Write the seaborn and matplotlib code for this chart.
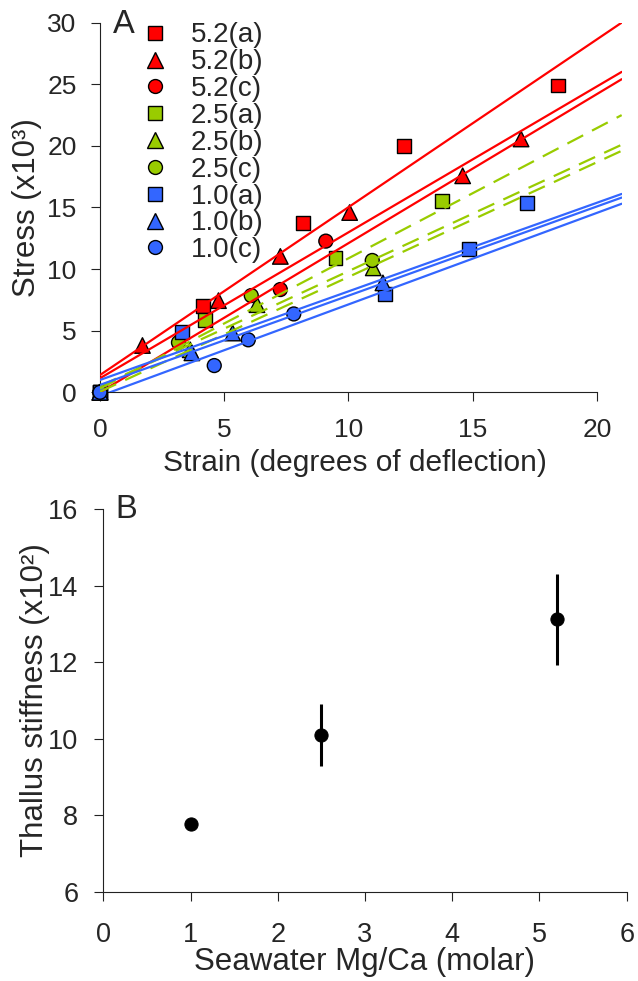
import numpy as np
import pandas as pd
import seaborn as sns
import matplotlib.pyplot as plt
from matplotlib.lines import Line2D

# panel A: stress vs strain, one set per seawater Mg/Ca and replicate
a52_x = [0, 4.16, 8.17, 12.24, 18.44]
a52_y = [0, 7.03, 13.72, 19.97, 24.9]
b52_x = [0, 1.71, 4.77, 7.26, 10.05, 14.6, 16.95]
b52_y = [0, 3.8, 7.44, 11.03, 14.59, 17.57, 20.56]
c52_x = [0, 7.26, 9.09]
c52_y = [0, 8.34, 12.27]
a25_x = [0, 4.24, 9.48, 13.76]
a25_y = [0, 5.89, 10.92, 15.53]
b25_x = [0, 3.63, 6.32, 11.0]
b25_y = [0, 3.45, 7.11, 10.1]
c25_x = [0, 3.16, 6.09, 10.96]
c25_y = [0, 4.04, 7.85, 10.7]
a10_x = [0, 3.3, 11.47, 14.84, 17.18]
a10_y = [0, 4.89, 7.99, 11.6, 15.35]
b10_x = [0, 3.7, 5.34, 11.39]
b10_y = [0, 3.2, 4.81, 8.88]
c10_x = [0, 4.6, 5.97, 7.8]
c10_y = [0, 2.17, 4.26, 6.36]

# fitted lines (intercept, slope)
fit_labels = ["5.2(a)", "5.2(b)", "5.2(c)", "2.5(a)", "2.5(b)", "2.5(c)",
              "1.0(a)", "1.0(b)", "1.0(c)"]
fit_icpt = [1.4, 1.14, 0.0, 0.3, 0.5, 0.05, 1.0, 0.6, -0.3]
fit_slope = [1.362, 1.184, 1.21, 1.057, 0.933, 0.931, 0.719, 0.724, 0.743]

# panel B: stiffness vs Mg/Ca
mgca = [1.0, 2.5, 5.2]
stiff = [7.76, 10.1, 13.12]
stiff_err = [0.15, 0.8, 1.2]

RED = "#FF0000"
GREEN = "#99CC00"
BLUE = "#3366FF"
pal = {"5.2": RED, "2.5": GREEN, "1.0": BLUE}
mk = {"a": "s", "b": "^", "c": "o"}
mk_size = {"a": 100, "b": 125, "c": 100}

sets = [("5.2", "a", a52_x, a52_y), ("5.2", "b", b52_x, b52_y), ("5.2", "c", c52_x, c52_y),
        ("2.5", "a", a25_x, a25_y), ("2.5", "b", b25_x, b25_y), ("2.5", "c", c25_x, c25_y),
        ("1.0", "a", a10_x, a10_y), ("1.0", "b", b10_x, b10_y), ("1.0", "c", c10_x, c10_y)]
rows = []
for grp, rep, xs, ys in sets:
    for x, y in zip(xs, ys):
        rows.append({"grp": grp, "rep": rep, "strain": x, "stress": y})
df = pd.DataFrame(rows)

sns.set_theme(style="ticks")
plt.rcParams["font.family"] = ["Liberation Sans", "DejaVu Sans"]

W, H = 638, 981
fig = plt.figure(figsize=(W / 100, H / 100), dpi=100)
axA = fig.add_axes([0.1567, 0.6001, 0.8177, 0.3768])
axB = fig.add_axes([0.1619, 0.0910, 0.8204, 0.3898])

# --- panel A
sns.scatterplot(data=df, x="strain", y="stress", hue="grp", style="rep",
                size="rep", sizes=mk_size, palette=pal, markers=mk,
                edgecolor="black", linewidth=1,
                legend=False, ax=axA, clip_on=False, zorder=3)

xs_line = np.array([0, 21])
for lab, b0, b1 in zip(fit_labels, fit_icpt, fit_slope):
    col = pal[lab[:3]]
    dashed = lab.startswith("2.5")
    axA.plot(xs_line, b0 + b1 * xs_line, color=col, lw=1.6,
             dashes=(8, 4.5) if dashed else (None, None), zorder=4)

axA.set_xlim(0, 21)
axA.set_ylim(0, 30)
axA.set_xticks([0, 5, 10, 15, 20])
axA.set_yticks([0, 5, 10, 15, 20, 25, 30])
axA.spines["bottom"].set_bounds(0, 20)
sns.despine(ax=axA)
axA.tick_params(axis="both", labelsize=19, length=6.3, width=0.8, color="#222222")
axA.tick_params(axis="y", pad=10.5)
axA.tick_params(axis="x", pad=12)
axA.set_xlabel("Strain (degrees of deflection)", fontsize=21.5, va="top")
axA.set_ylabel("Stress (x10³)", fontsize=22.5)
axA.yaxis.set_label_coords(-0.1117, 0.5)
axA.xaxis.set_label_coords(0.488, -0.1545)

handles = []
for grp, rep, _, _ in sets:
    handles.append(Line2D([], [], ls="none", marker=mk[rep],
                          markersize=np.sqrt(mk_size[rep]),
                          markerfacecolor=pal[grp], markeredgecolor="black",
                          markeredgewidth=1))
axA.legend(handles, fit_labels, loc="upper left",
           bbox_to_anchor=(135.5 / W, 1 - 22.5 / H), bbox_transform=fig.transFigure,
           frameon=False, fontsize=20, handlelength=1.4, handletextpad=0.58,
           labelspacing=0.03, borderpad=0, borderaxespad=0)
fig.text(113 / W, 1 - 33 / H, "A", fontsize=23.5, va="baseline", ha="left")

# --- panel B
axB.errorbar(mgca, stiff, yerr=stiff_err, fmt="none", ecolor="black", elinewidth=2.2, capsize=0)
sns.scatterplot(x=mgca, y=stiff, color="black", s=90, edgecolor="black", ax=axB, zorder=3)
axB.set_xlim(0, 6)
axB.set_ylim(6, 16)
axB.set_xticks(range(7))
axB.set_yticks([6, 8, 10, 12, 14, 16])
sns.despine(ax=axB)
axB.tick_params(axis="both", labelsize=19.5, length=6.5, width=0.8, color="#222222")
axB.tick_params(axis="y", pad=11.5)
axB.tick_params(axis="x", pad=15.5)
axB.set_xlabel("Seawater Mg/Ca (molar)", fontsize=22.5, va="top")
axB.set_ylabel("Thallus stiffness (x10²)", fontsize=22.5)
axB.yaxis.set_label_coords(-0.1024, 0.5)
axB.xaxis.set_label_coords(0.5, -0.1457)
fig.text(115 / W, 1 - 518 / H, "B", fontsize=23.5, va="baseline", ha="left")

for ax in (axA, axB):
    for sp in ax.spines.values():
        sp.set_linewidth(0.8)
        sp.set_color("#222222")

fig.savefig("out.png", dpi=100)
